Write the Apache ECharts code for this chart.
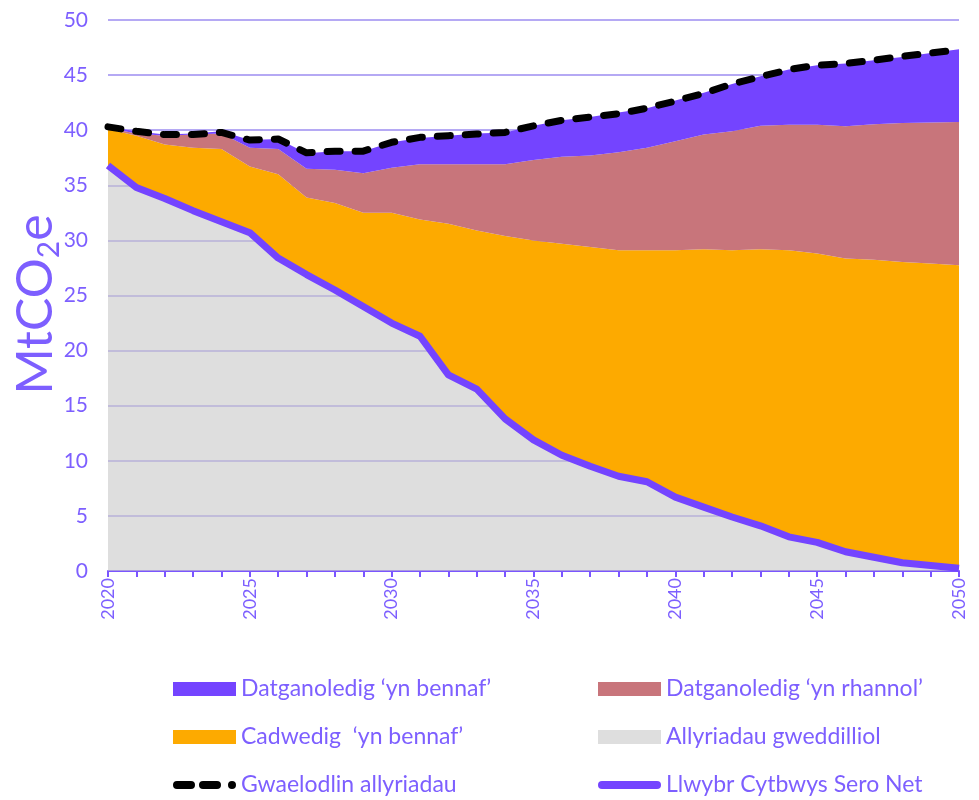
<!DOCTYPE html>
<html>
<head>
<meta charset="utf-8">
<title>MtCO2e</title>
<script src="https://cdn.jsdelivr.net/npm/echarts@6/dist/echarts.min.js"></script>
<style>
  html, body { margin: 0; padding: 0; background: #fff; }
  #chart { width: 979px; height: 800px; }
</style>
</head>
<body>
<div id="chart"></div>
<script>
// blynyddoedd 2020-2050
var years = [];
for (var y = 2020; y <= 2050; y++) years.push(String(y));

// Allyriadau gweddilliol = Llwybr Cytbwys Sero Net
var netZero = [36.8, 34.8, 33.8, 32.7, 31.7, 30.7, 28.4, 26.9, 25.5, 24.0,
               22.5, 21.3, 17.8, 16.5, 13.8, 11.9, 10.5, 9.5, 8.6, 8.1,
               6.7, 5.8, 4.9, 4.1, 3.1, 2.6, 1.75, 1.25, 0.75, 0.5, 0.25];
// Cadwedig 'yn bennaf' (haen)
var reserved = [3.3, 4.7, 4.9, 5.7, 6.6, 6.0, 7.6, 7.0, 7.9, 8.5,
                10.0, 10.6, 13.7, 14.4, 16.6, 18.1, 19.2, 19.9, 20.5, 21.0,
                22.4, 23.4, 24.2, 25.1, 26.0, 26.2, 26.6, 27.0, 27.3, 27.4, 27.5];
// Datganoledig 'yn rhannol' (haen)
var partly = [0.1, 0.2, 0.8, 1.2, 1.4, 1.7, 2.3, 2.6, 3.0, 3.6,
              4.1, 5.0, 5.4, 6.0, 6.5, 7.3, 7.9, 8.3, 8.9, 9.3,
              9.9, 10.4, 10.8, 11.2, 11.4, 11.7, 12.0, 12.3, 12.6, 12.8, 13.0];
// Datganoledig 'yn bennaf' (haen)
var mainly = [0.1, 0.2, 0.1, 0.1, 0.2, 0.7, 0.9, 1.4, 1.7, 2.0,
              2.3, 2.4, 2.6, 2.8, 2.9, 3.1, 3.3, 3.5, 3.6, 3.6,
              3.7, 3.8, 4.3, 4.5, 5.0, 5.4, 5.7, 5.8, 6.0, 6.3, 6.6];
// Gwaelodlin allyriadau
var baseline = [40.3, 39.9, 39.6, 39.6, 39.8, 39.1, 39.2, 37.95, 38.1, 38.1,
                38.9, 39.35, 39.5, 39.65, 39.8, 40.4, 40.9, 41.2, 41.5, 42.0,
                42.65, 43.35, 44.2, 44.85, 45.5, 45.9, 46.05, 46.35, 46.7, 47.0, 47.3];

var yTicks = [0, 5, 10, 15, 20, 25, 30, 35, 40, 45, 50];

var txt = '#7d5fff';
var font = 'Lato, "Open Sans", sans-serif';

// eiconau'r allwedd ar gyfer y llinellau
var dashIcon = 'path://M4 0 L18 0 A4 4 0 0 1 18 8 L4 8 A4 4 0 0 1 4 0 Z ' +
               'M30 0 L44 0 A4 4 0 0 1 44 8 L30 8 A4 4 0 0 1 30 0 Z ' +
               'M59 0 A4 4 0 1 1 59 8 A4 4 0 1 1 59 0 Z';
var barIcon = 'path://M4 0 L59 0 A4 4 0 0 1 59 8 L4 8 A4 4 0 0 1 4 0 Z';

function area(name, data, color) {
    return {
        name: name,
        type: 'line',
        stack: 'cyfanswm',
        data: data,
        symbol: 'none',
        itemStyle: { color: color },
        lineStyle: { width: 0, opacity: 0 },
        areaStyle: { color: color, opacity: 1 },
        emphasis: { disabled: true }
    };
}

var legendBase = {
    orient: 'vertical', top: 677, itemGap: 24, padding: 0,
    itemWidth: 63, itemHeight: 14, symbolKeepAspect: true,
    textStyle: { color: txt, fontSize: 23, fontFamily: font, lineHeight: 24 }
};

var myChart = echarts.init(document.getElementById('chart'));
var option = {
    animation: false,
    textStyle: { fontFamily: font },
    grid: { left: 108, right: 20, top: 20, bottom: 229, outerBoundsMode: 'none' },
    legend: [
        Object.assign({}, legendBase, {
            left: 173,
            data: [
                { name: "Datganoledig ‘yn bennaf’", icon: 'rect' },
                { name: "Cadwedig  ‘yn bennaf’", icon: 'rect' },
                { name: 'Gwaelodlin allyriadau', icon: dashIcon }
            ]
        }),
        Object.assign({}, legendBase, {
            left: 598,
            data: [
                { name: "Datganoledig ‘yn rhannol’", icon: 'rect' },
                { name: 'Allyriadau gweddilliol', icon: 'rect' },
                { name: 'Llwybr Cytbwys Sero Net', icon: barIcon }
            ]
        })
    ],
    xAxis: {
        type: 'category',
        boundaryGap: false,
        data: years,
        axisLine: { lineStyle: { color: '#7a55ff', width: 2 } },
        axisTick: { show: true, interval: 0, length: 6, lineStyle: { color: '#7a55ff', width: 2 } },
        axisLabel: { interval: 4, rotate: 90, color: txt, fontSize: 18, margin: 7, fontFamily: font },
        splitLine: { show: false }
    },
    yAxis: {
        type: 'value',
        min: yTicks[0],
        max: yTicks[yTicks.length - 1],
        interval: 5,
        name: 'MtCO{s|2}e',
        nameLocation: 'middle',
        nameGap: 44,
        nameMoveOverlap: false,
        nameTextStyle: {
            color: txt, fontSize: 50, fontFamily: font,
            padding: [0, 18, 0, 0],
            rich: { s: { fontSize: 30, color: txt, fontFamily: font, padding: [26, 0, 0, 0] } }
        },
        axisLine: { show: false },
        axisTick: { show: false },
        axisLabel: { color: txt, fontSize: 21, margin: 20, fontFamily: font },
        splitLine: { lineStyle: { color: '#9d8cf0', width: 1.5 } }
    },
    series: [
        area('Allyriadau gweddilliol', netZero, 'rgba(200,200,200,0.6)'),
        area("Cadwedig  ‘yn bennaf’", reserved, '#fdaa00'),
        area("Datganoledig ‘yn rhannol’", partly, '#c8757b'),
        area("Datganoledig ‘yn bennaf’", mainly, '#7444ff'),
        {
            name: 'Llwybr Cytbwys Sero Net',
            type: 'line',
            data: netZero,
            symbol: 'none',
            lineStyle: { color: '#7444ff', width: 7, join: 'round' },
            itemStyle: { color: '#7444ff' },
            emphasis: { disabled: true }
        },
        {
            name: 'Gwaelodlin allyriadau',
            type: 'line',
            data: baseline,
            symbol: 'none',
            lineStyle: { color: '#000', width: 7, type: [13, 15], cap: 'round', join: 'round' },
            itemStyle: { color: '#000' },
            emphasis: { disabled: true }
        }
    ]
};
myChart.setOption(option);
</script>
</body>
</html>
